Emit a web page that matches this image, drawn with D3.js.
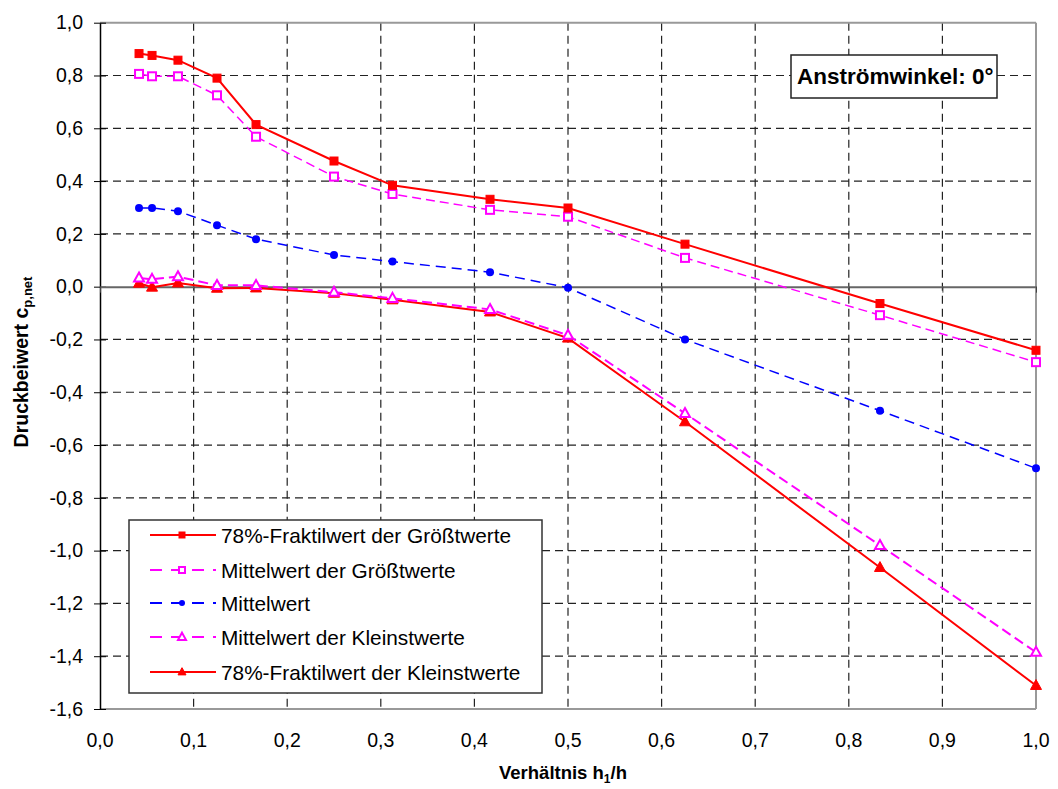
<!DOCTYPE html>
<html><head><meta charset="utf-8">
<script src="https://cdn.jsdelivr.net/npm/d3@7"></script>
<style>body{margin:0;background:#fff}svg{display:block}text{font-family:"Liberation Sans",Arial,sans-serif}</style>
</head><body>
<svg id="c" width="1058" height="789"></svg>
<script>
const xValues = [0.0417, 0.0556, 0.0833, 0.125, 0.1667, 0.25, 0.3125, 0.4167, 0.5, 0.625, 0.8333, 1.0];
const fraktilMax = [0.883, 0.876, 0.858, 0.79, 0.614, 0.476, 0.384, 0.331, 0.298, 0.161, -0.064, -0.241];
const mittelMax  = [0.806, 0.797, 0.797, 0.725, 0.568, 0.417, 0.351, 0.291, 0.265, 0.109, -0.108, -0.286];
const mittel     = [0.298, 0.298, 0.286, 0.233, 0.180, 0.120, 0.095, 0.055, -0.004, -0.2, -0.47, -0.688];
const mittelMin  = [0.033, 0.028, 0.038, 0.005, 0.005, -0.021, -0.044, -0.086, -0.184, -0.48, -0.98, -1.385];
const fraktilMin = [0.013, -0.002, 0.014, -0.006, -0.005, -0.025, -0.05, -0.096, -0.195, -0.512, -1.064, -1.511];
const seriesNames = ["78%-Fraktilwert der Größtwerte", "Mittelwert der Größtwerte", "Mittelwert", "Mittelwert der Kleinstwerte", "78%-Fraktilwert der Kleinstwerte"];
const xTicks = [0,0.1,0.2,0.3,0.4,0.5,0.6,0.7,0.8,0.9,1.0];
const yTicks = [1.0,0.8,0.6,0.4,0.2,0,-0.2,-0.4,-0.6,-0.8,-1.0,-1.2,-1.4,-1.6];
const titleText = "Anströmwinkel: 0°";

const styles = [
  {data: fraktilMax, color:"#ff0000", dash:null, w:2, marker:"square", fill:true},
  {data: mittelMax, color:"#ff00ff", dash:"9,5", w:1.5, marker:"square", fill:false},
  {data: mittel, color:"#0000ff", dash:"10,6", w:1.5, marker:"circle", fill:true},
  {data: mittelMin, color:"#ff00ff", dash:"10,5", w:2, marker:"triangle", fill:false},
  {data: fraktilMin, color:"#ff0000", dash:null, w:2, marker:"triangle", fill:true}
];

const svg = d3.select("#c");
const L=100, R=1036, T=22.7, B=709;
const x = d3.scaleLinear().domain([0,1]).range([L,R]);
const y = d3.scaleLinear().domain([-1.6,1.0]).range([B,T]);
const fmt = d => (d < -1e-9 ? "-" : "") + Math.abs(d).toFixed(1).replace(".", ",");

// grid
const g = svg.append("g");
g.selectAll(".hg").data(yTicks.filter(d=>d!==0 && d!==1.0 && d!==-1.6)).enter().append("line")
  .attr("x1",L).attr("x2",R).attr("y1",d=>y(d)).attr("y2",d=>y(d))
  .attr("stroke","#222").attr("stroke-width",1.2).attr("stroke-dasharray","8,5");
g.selectAll(".vg").data(xTicks.filter(d=>d>0 && d<1)).enter().append("line")
  .attr("y1",T).attr("y2",B).attr("x1",d=>x(d)).attr("x2",d=>x(d))
  .attr("stroke","#222").attr("stroke-width",1.2).attr("stroke-dasharray","8,5");

// borders
svg.append("line").attr("x1",L).attr("x2",R).attr("y1",T).attr("y2",T).attr("stroke","#999").attr("stroke-width",2);
svg.append("line").attr("x1",L).attr("x2",R).attr("y1",B).attr("y2",B).attr("stroke","#999").attr("stroke-width",2);
svg.append("line").attr("x1",R).attr("x2",R).attr("y1",T).attr("y2",B).attr("stroke","#999").attr("stroke-width",2);

// y axis
const yAxis = d3.axisLeft(y).tickValues(yTicks).tickFormat(fmt).tickSize(6).tickSizeOuter(0);
const ya = svg.append("g").attr("transform",`translate(${L},0)`).call(yAxis);
ya.select(".domain").attr("stroke","#000").attr("stroke-width",1.5);
ya.selectAll(".tick line").attr("stroke","#000").attr("x2",-6).attr("x1",6);
ya.selectAll(".tick text").attr("x",-17).attr("font-size",19.5).attr("fill","#000").attr("font-family","Liberation Sans, Arial");

// zero line as x axis with ticks
const xAxis = d3.axisBottom(x).tickValues(xTicks).tickFormat("").tickSize(6).tickSizeOuter(0);
const xa = svg.append("g").attr("transform",`translate(0,${y(0)})`).call(xAxis);
xa.select(".domain").attr("stroke","#666").attr("stroke-width",2);
xa.selectAll(".tick line").attr("stroke","#444");

// x tick labels at bottom
svg.append("g").selectAll("text").data(xTicks).enter().append("text")
  .attr("x",d=>x(d)).attr("y",747).attr("text-anchor","middle").attr("font-size",19.5).text(fmt);

// series
const line = d3.line().x((d,i)=>x(xValues[i])).y(d=>y(d));
function drawMarker(sel, type, color, fill, size){
  if(type==="square"){
    sel.append("rect").attr("x",-size/2).attr("y",-size/2).attr("width",size).attr("height",size)
      .attr("fill",fill?color:"#fff").attr("stroke",color).attr("stroke-width",fill?1:2);
  } else if(type==="circle"){
    sel.append("circle").attr("r",size/2).attr("fill",color);
  } else {
    const h=size*0.9, w=size;
    sel.append("path").attr("d",`M0,${-h*0.6}L${w/2},${h*0.4}L${-w/2},${h*0.4}Z`)
      .attr("fill",fill?color:"#fff").attr("stroke",color).attr("stroke-width",fill?1:2);
  }
}
styles.slice().reverse().forEach(s=>{
  svg.append("path").datum(s.data).attr("d",line).attr("fill","none").attr("stroke",s.color)
    .attr("stroke-width",s.w).attr("stroke-dasharray",s.dash);
});
styles.slice().reverse().forEach(s=>{
  svg.append("g").selectAll("g").data(s.data).enter().append("g")
    .attr("transform",(d,i)=>`translate(${x(xValues[i])},${y(d)})`)
    .each(function(){ drawMarker(d3.select(this), s.marker, s.color, s.fill, s.marker==="triangle"? (s.fill?11:10): 8); });
});

// legend
const leg = svg.append("g");
leg.append("rect").attr("x",129).attr("y",520).attr("width",413).attr("height",173)
  .attr("fill","#fff").attr("stroke","#333").attr("stroke-width",1.5);
const rowY = [535, 570, 603, 637, 672];
styles.forEach((s,i)=>{
  const r = leg.append("g").attr("transform",`translate(0,${rowY[i]})`);
  r.append("line").attr("x1",150).attr("x2",216).attr("y1",0).attr("y2",0)
    .attr("stroke",s.color).attr("stroke-width",2).attr("stroke-dasharray", s.dash? "12,9" : null);
  const m = r.append("g").attr("transform","translate(182,0)");
  drawMarker(m, s.marker, s.color, s.fill, s.marker==="triangle"?8:6);
  r.append("text").attr("x",221).attr("y",7.5).attr("font-size",20.8).text(seriesNames[i]);
});

// title box
svg.append("rect").attr("x",791).attr("y",55).attr("width",206).attr("height",43)
  .attr("fill","#fff").attr("stroke","#222").attr("stroke-width",1.5);
svg.append("text").attr("x",797).attr("y",84).attr("font-size",22.5).attr("font-weight","bold").text(titleText);

// axis titles
const xt = svg.append("text").attr("x",563).attr("y",779).attr("text-anchor","middle").attr("font-size",18.5).attr("font-weight","bold");
xt.append("tspan").text("Verhältnis h");
xt.append("tspan").attr("font-size",12).attr("dy",4).text("1");
xt.append("tspan").attr("dy",-4).text("/h");

const yt = svg.append("text").attr("transform","translate(28,362) rotate(-90)").attr("text-anchor","middle").attr("font-size",19.5).attr("font-weight","bold");
yt.append("tspan").text("Druckbeiwert c");
yt.append("tspan").attr("font-size",13).attr("dy",4).text("p,net");
</script>
</body></html>
